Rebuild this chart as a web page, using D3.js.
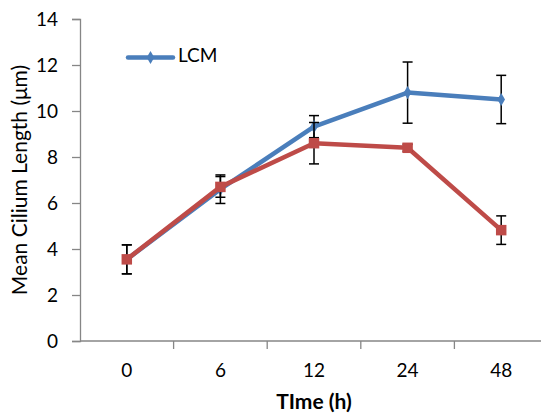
<!DOCTYPE html>
<html>
<head>
<meta charset="utf-8">
<script src="https://cdn.jsdelivr.net/npm/d3@7"></script>
<style>
  body { margin: 0; background: #fff; }
  text { font-family: Lato, "Open Sans", sans-serif; fill: #000; }
</style>
</head>
<body>
<div id="chart"></div>
<script>
var times = ["0", "6", "12", "24", "48"];
var lcmValues = [3.55, 6.6, 9.32, 10.8, 10.5];
var lcmErrors = [0.63, 0.62, 0.48, 1.33, 1.05];
var otherValues = [3.55, 6.7, 8.6, 8.4, 4.82];
var otherErrors = [0.63, 0.45, 0.9, 0.15, 0.62];
var yTicks = [0, 2, 4, 6, 8, 10, 12, 14];

var width = 541, height = 414;
var margin = { left: 80, right: -7, top: 19, bottom: 73 };

var svg = d3.select("#chart")
    .append("svg")
        .attr("width", width)
        .attr("height", height);

var x = d3.scaleBand()
    .domain(times)
    .range([margin.left, width - margin.right]);

var y = d3.scaleLinear()
    .domain([0, 14])
    .range([height - margin.bottom, margin.top]);

var axisColor = "#868686";

// y axis
var yAxis = svg.append("g")
    .attr("transform", "translate(" + margin.left + ",0)")
    .call(d3.axisLeft(y).tickValues(yTicks).tickSize(8).tickPadding(14).tickFormat(d3.format("d")));
yAxis.select(".domain").attr("stroke", axisColor).attr("stroke-width", 1.3);
yAxis.selectAll(".tick line").attr("stroke", axisColor).attr("stroke-width", 1.3);
yAxis.selectAll(".tick text").attr("font-size", 19).attr("font-family", "Lato, sans-serif").attr("fill", "#000");

// x axis, ticks on band edges
var xg = svg.append("g")
    .attr("transform", "translate(0," + y(0) + ")");
xg.append("line")
    .attr("x1", margin.left).attr("x2", width)
    .attr("stroke", axisColor).attr("stroke-width", 1.3);
xg.selectAll(".xtick")
    .data(times.slice(1))
    .enter().append("line")
    .attr("class", "xtick")
    .attr("x1", function(d){ return x(d); })
    .attr("x2", function(d){ return x(d); })
    .attr("y1", 0).attr("y2", 8)
    .attr("stroke", axisColor).attr("stroke-width", 1.3);
xg.selectAll(".xlabel")
    .data(times)
    .enter().append("text")
    .attr("class", "xlabel")
    .attr("x", function(d){ return x(d) + x.bandwidth()/2; })
    .attr("y", 31)
    .attr("text-anchor", "middle")
    .attr("dominant-baseline", "middle")
    .attr("font-size", 19)
    .text(function(d){ return d; });

// axis titles
svg.append("text")
    .attr("x", 314).attr("y", 404)
    .attr("text-anchor", "middle")
    .attr("dominant-baseline", "middle")
    .attr("font-size", 21)
    .attr("font-weight", "bold")
    .text("TIme (h)");

svg.append("text")
    .attr("transform", "translate(22," + y(7) + ") rotate(-90)")
    .attr("text-anchor", "middle")
    .attr("dominant-baseline", "middle")
    .attr("font-size", 21)
    .text("Mean Cilium Length (μm)");

function cx(i){ return x(times[i]) + x.bandwidth()/2; }

var line = d3.line()
    .x(function(d, i){ return cx(i); })
    .y(function(d){ return y(d); });

var series = [
    { name: "LCM", values: lcmValues, errors: lcmErrors, color: "#4a7ebb", marker: "diamond" },
    { name: "", values: otherValues, errors: otherErrors, color: "#be4b48", marker: "square" }
];

series.forEach(function(s){
    var g = svg.append("g");
    g.append("path")
        .datum(s.values)
        .attr("d", line)
        .attr("fill", "none")
        .attr("stroke", s.color)
        .attr("stroke-width", 4.5)
        .attr("stroke-linejoin", "round");

    // error bars
    var eb = g.selectAll(".err")
        .data(s.values)
        .enter().append("g")
        .attr("class", "err");
    eb.append("line")
        .attr("x1", function(d, i){ return cx(i); })
        .attr("x2", function(d, i){ return cx(i); })
        .attr("y1", function(d, i){ return y(d + s.errors[i]); })
        .attr("y2", function(d, i){ return y(d - s.errors[i]); })
        .attr("stroke", "#000").attr("stroke-width", 1.5);
    [1, -1].forEach(function(sign){
        eb.append("line")
            .attr("x1", function(d, i){ return cx(i) - 5; })
            .attr("x2", function(d, i){ return cx(i) + 5; })
            .attr("y1", function(d, i){ return y(d + sign * s.errors[i]); })
            .attr("y2", function(d, i){ return y(d + sign * s.errors[i]); })
            .attr("stroke", "#000").attr("stroke-width", 1.5);
    });

    var sym = s.marker == "diamond"
        ? d3.symbol().type(d3.symbolDiamond).size(50)
        : d3.symbol().type(d3.symbolSquare).size(110);
    g.selectAll(".pt")
        .data(s.values)
        .enter().append("path")
        .attr("class", "pt")
        .attr("d", sym)
        .attr("transform", function(d, i){ return "translate(" + cx(i) + "," + y(d) + ")"; })
        .attr("fill", s.color);
});

// legend (LCM only)
var lg = svg.append("g").attr("transform", "translate(128,57.5)");
lg.append("line")
    .attr("x1", 0).attr("x2", 45)
    .attr("stroke", "#4a7ebb").attr("stroke-width", 4.5).attr("stroke-linecap", "round");
lg.append("path")
    .attr("d", d3.symbol().type(d3.symbolDiamond).size(50))
    .attr("transform", "translate(22.5,0)")
    .attr("fill", "#4a7ebb");
lg.append("text")
    .attr("x", 50).attr("y", 0)
    .attr("dominant-baseline", "middle")
    .attr("font-size", 19)
    .text("LCM");
</script>
</body>
</html>
